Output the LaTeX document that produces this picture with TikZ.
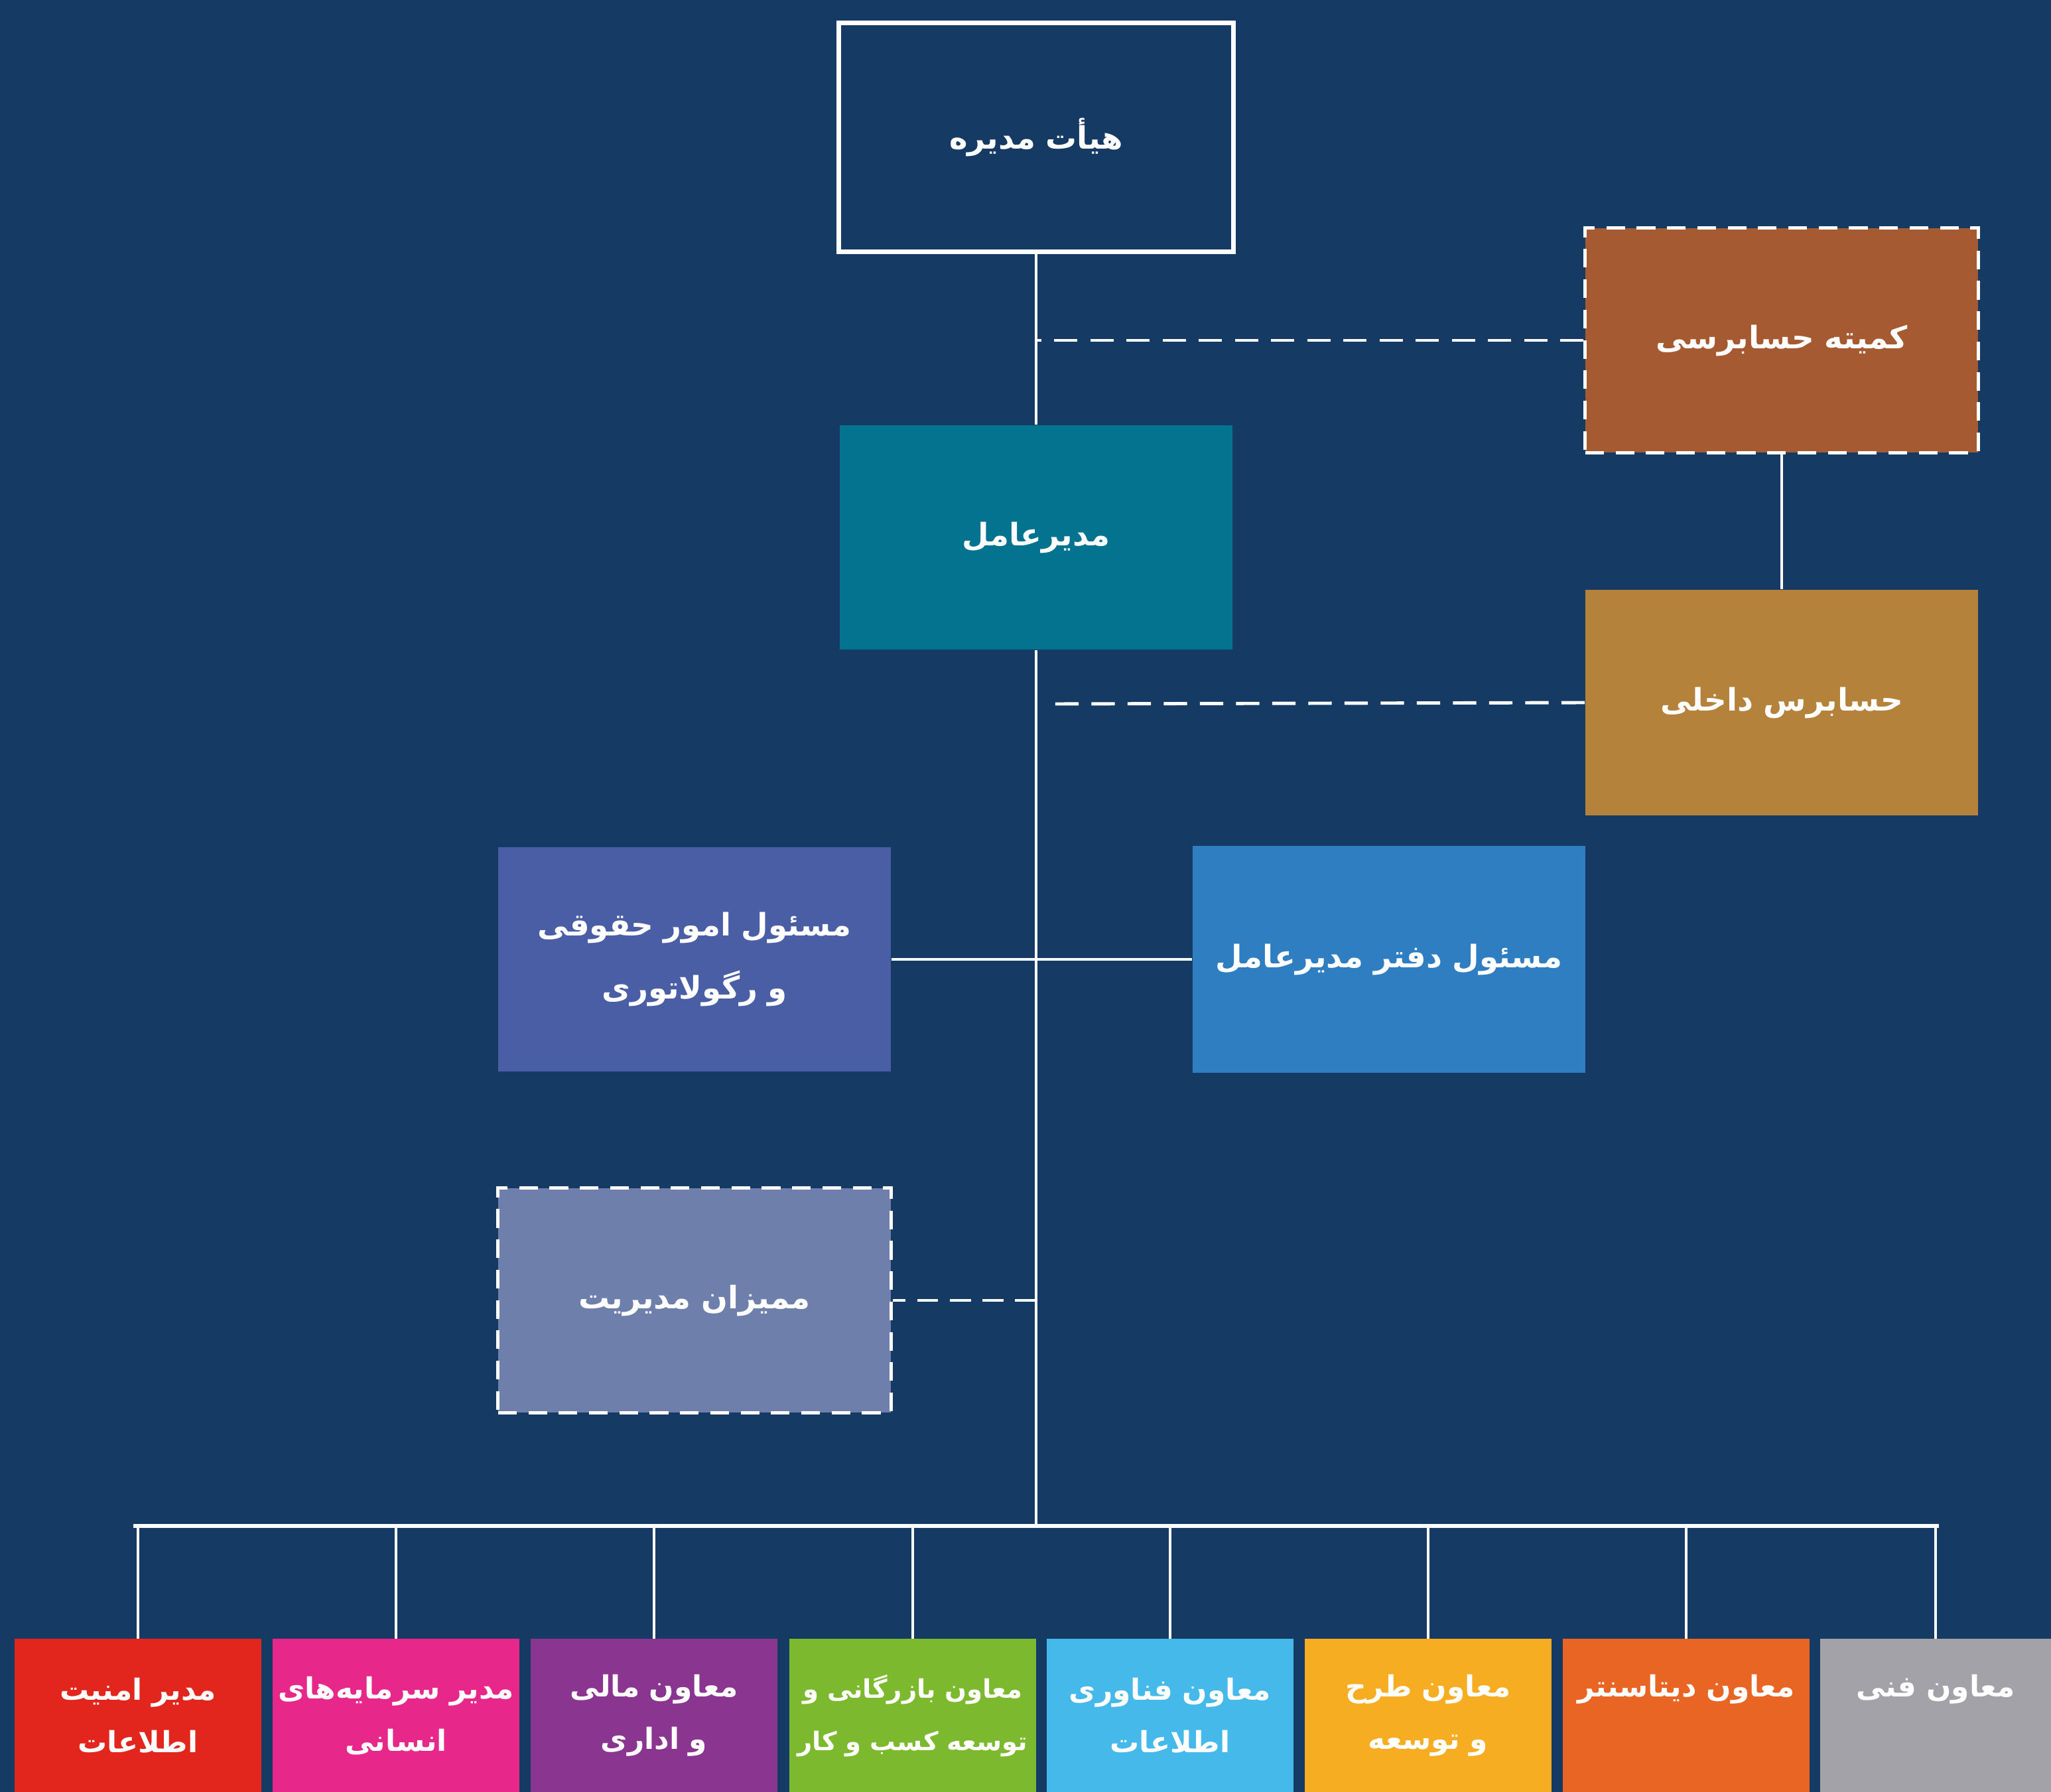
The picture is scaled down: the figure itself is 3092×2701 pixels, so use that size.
\documentclass[tikz,border=0pt]{standalone}
\usepackage{fontspec}
\newfontfamily\fa[Script=Arabic]{DejaVu Sans}
\TeXXeTstate=1
\usetikzlibrary{calc}
\newcommand\myrtl[1]{\mbox{\beginR#1\endR}}
\definecolor{bg}{HTML}{153A63}
\definecolor{cred}{HTML}{E2261D}
\definecolor{cpink}{HTML}{E7288A}
\definecolor{cpurple}{HTML}{8A3590}
\definecolor{cgreen}{HTML}{7DB92F}
\definecolor{clblue}{HTML}{45B9EA}
\definecolor{cyellow}{HTML}{F6AD21}
\definecolor{corange}{HTML}{E86524}
\definecolor{cgray}{HTML}{A3A2A8}
\definecolor{cteal}{HTML}{03738F}
\definecolor{cbrown}{HTML}{A65A32}
\definecolor{cochre}{HTML}{B4823A}
\definecolor{clegal}{HTML}{4A5EA6}
\definecolor{coffice}{HTML}{2F7EC2}
\definecolor{cmumayez}{HTML}{6E7FAB}
\tikzset{
  box/.style={rectangle, text width=5.92cm, minimum height=3.38cm, inner sep=0pt,
    text=white, align=center, font=\fa\bfseries\fontsize{13.3}{27}\selectfont},
  dashbox/.style={box, draw=white, line width=1.4pt, dash pattern=on 8pt off 5pt},
  unitbox/.style={rectangle, text width=3.72cm, minimum height=2.31cm, inner sep=0pt,
    text=white, align=center, font=\fa\bfseries\fontsize{12.5}{22.5}\selectfont},
  conn/.style={draw=white, line width=1.1pt},
  dconn/.style={draw=white, line width=1.4pt, dash pattern=on 10pt off 5.5pt},
}
\begin{document}
\begin{tikzpicture}[x=0.01cm,y=-0.01cm]
\useasboundingbox (0,0) rectangle (3092,2701);
\fill[bg] (0,0) rectangle (3092,2701);

\node[box, draw=white, line width=2pt, text width=5.94cm, minimum height=3.44cm] (board) at (1562,207) {\myrtl{هیأت مدیره}};
\node[dashbox, fill=cbrown] (committee) at (2686,513) {\myrtl{کمیته حسابرسی}};
\node[box, fill=cteal] (ceo) at (1562,810) {\myrtl{مدیرعامل}};
\node[box, fill=cochre, minimum height=3.40cm] (internal) at (2686,1059) {\myrtl{حسابرس داخلی}};
\node[box, fill=clegal] (legal) at (1047,1446) {\myrtl{مسئول امور حقوقی}\\\myrtl{و رگولاتوری}};
\node[box, fill=coffice, minimum height=3.41cm] (office) at (2094,1446) {\myrtl{مسئول دفتر مدیرعامل}};
\node[dashbox, fill=cmumayez] (mumayez) at (1047,1960) {\myrtl{ممیزان مدیریت}};

\node[unitbox, fill=cred] (u1) at (208,2586) {\myrtl{مدیر امنیت}\\\myrtl{اطلاعات}};
\node[unitbox, fill=cpink] (u2) at (597,2586) {\myrtl{مدیر سرمایه‌های}\\\myrtl{انسانی}};
\node[unitbox, fill=cpurple] (u3) at (986,2586) {\myrtl{معاون مالی}\\\myrtl{و اداری}};
\node[unitbox, fill=cgreen, font=\fa\bfseries\fontsize{11}{22.5}\selectfont] (u4) at (1376,2586) {\myrtl{معاون بازرگانی و}\\\myrtl{توسعه کسب و کار}};
\node[unitbox, fill=clblue] (u5) at (1764,2586) {\myrtl{معاون فناوری}\\\myrtl{اطلاعات}};
\node[unitbox, fill=cyellow] (u6) at (2153,2586) {\myrtl{معاون طرح}\\\myrtl{و توسعه}};
\node[unitbox, fill=corange] (u7) at (2542,2586) {\myrtl{معاون دیتاسنتر}\\\phantom{\myrtl{و}}};
\node[unitbox, fill=cgray, text width=3.48cm] (u8) at (2918,2586) {\myrtl{معاون فنی}\\\phantom{\myrtl{و}}};

\coordinate (busL) at (201,2300);
\coordinate (busR) at (2923,2300);
\coordinate (trunkbot) at (1562,2300);
\coordinate (ia) at (1587,1061);

% solid connectors
\draw[conn] (board.south) -- (ceo.north);
\draw[conn] (ceo.south) -- (trunkbot);
\draw[conn] (committee.south) -- (internal.north);
\draw[conn] (legal.east) -- (office.west);
\draw[draw=white, line width=1.5pt] (busL) -- (busR);
\foreach \u in {u1,u2,u3,u4,u5,u6,u7,u8}{
  \draw[conn] (\u.north |- busL) -- (\u.north);
}
% dashed connectors
\draw[dconn] (committee.west) -- (committee.west -| board.south);
\draw[dconn] (internal.west) -- (ia);
\draw[dconn, dash pattern=on 9pt off 5pt] (mumayez.east -| ceo.south) -- (mumayez.east);
\end{tikzpicture}
\end{document}
